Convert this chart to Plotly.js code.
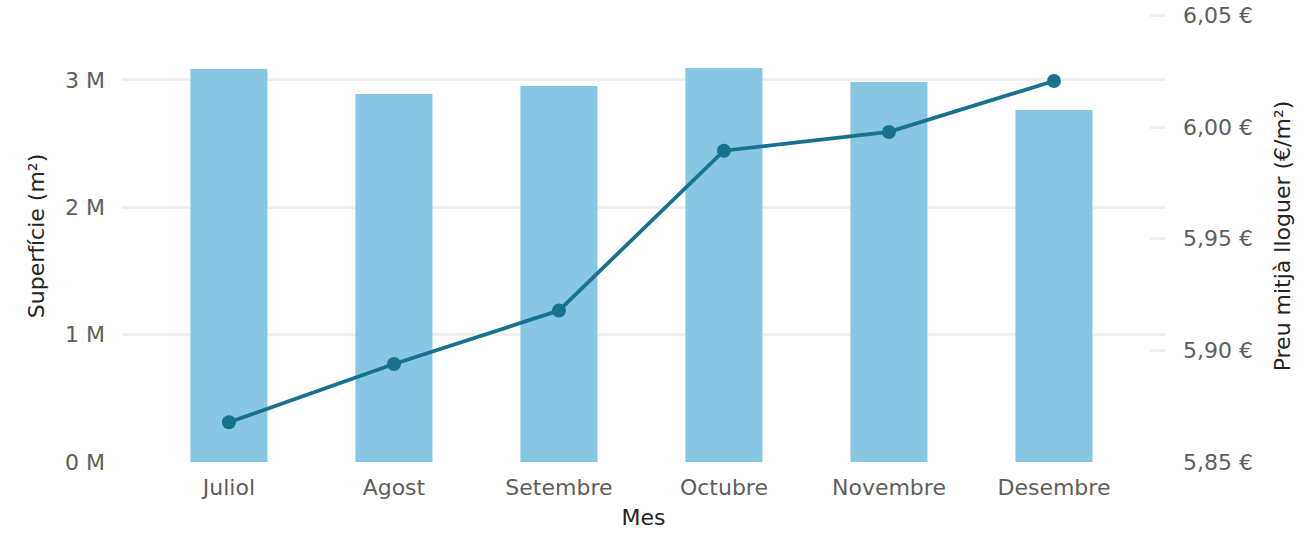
<!DOCTYPE html>
<html>
<head>
<meta charset="utf-8">
<script src="https://cdn.plot.ly/plotly-3.0.1.min.js"></script>
<style>
  html, body { margin: 0; padding: 0; background: #ffffff; }
  #chart { width: 1313px; height: 536px; }
</style>
</head>
<body>
<div id="chart"></div>
<script>
const months = ['Juliol', 'Agost', 'Setembre', 'Octubre', 'Novembre', 'Desembre'];
const superficie = [3085000, 2889000, 2951000, 3093000, 2983000, 2763000];
const preu = [5.8678, 5.8939, 5.9178, 5.9894, 5.9978, 6.0206];
const leftTickVals = [0, 1000000, 2000000, 3000000];
const leftTickText = ['0 M', '1 M', '2 M', '3 M'];
const rightTickVals = [5.85, 5.90, 5.95, 6.00, 6.05];
const rightTickText = ['5,85 €', '5,90 €', '5,95 €', '6,00 €', '6,05 €'];

const FONT = '"DejaVu Sans", Roboto, sans-serif';
const GRID = '#F1EFED';
const FS = 22;

const traces = [
  {
    type: 'bar',
    x: months,
    y: superficie,
    name: 'Superfície (m²)',
    marker: { color: '#88C7E3' },
    yaxis: 'y',
    hoverinfo: 'x+y'
  },
  {
    type: 'scatter',
    mode: 'lines+markers',
    x: months,
    y: preu,
    name: 'Preu mitjà lloguer (€/m²)',
    line: { color: '#17718F', width: 3.8 },
    marker: { color: '#17718F', size: 14 },
    yaxis: 'y2'
  }
];

const layout = {
  width: 1313,
  height: 536,
  margin: { l: 122, r: 148, t: 10, b: 74 },
  paper_bgcolor: '#ffffff',
  plot_bgcolor: '#ffffff',
  showlegend: false,
  bargap: 0.533,
  font: { family: FONT, color: '#605E5C', size: FS },
  xaxis: {
    type: 'category',
    range: [-0.648, 5.673],
    showgrid: false,
    zeroline: false,
    showline: false,
    ticks: '',
    tickfont: { family: FONT, size: FS, color: '#605E5C' },
    ticklabelstandoff: 10,
    title: { text: 'Mes', font: { family: FONT, size: FS, color: '#252423' }, standoff: 10 }
  },
  yaxis: {
    range: [0, 3548000],
    tickvals: leftTickVals,
    ticktext: leftTickText,
    showgrid: true,
    gridcolor: GRID,
    gridwidth: 3,
    zeroline: false,
    showline: false,
    ticks: '',
    ticklabelstandoff: 16,
    tickfont: { family: FONT, size: FS, color: '#605E5C' },
    title: { text: 'Superfície (m²)', font: { family: FONT, size: FS, color: '#252423' }, standoff: 14 }
  },
  yaxis2: {
    overlaying: 'y',
    side: 'right',
    range: [5.85, 6.0524],
    tickvals: rightTickVals,
    ticktext: rightTickText,
    showgrid: false,
    zeroline: false,
    showline: false,
    ticks: 'inside',
    ticklen: 15,
    tickwidth: 3,
    tickcolor: GRID,
    ticklabelstandoff: 17,
    tickfont: { family: FONT, size: FS, color: '#605E5C' },
    title: { text: 'Preu mitjà lloguer (€/m²)', font: { family: FONT, size: FS, color: '#252423' }, standoff: 22 }
  }
};

Plotly.newPlot('chart', traces, layout, { displayModeBar: false, responsive: false });
</script>
</body>
</html>
